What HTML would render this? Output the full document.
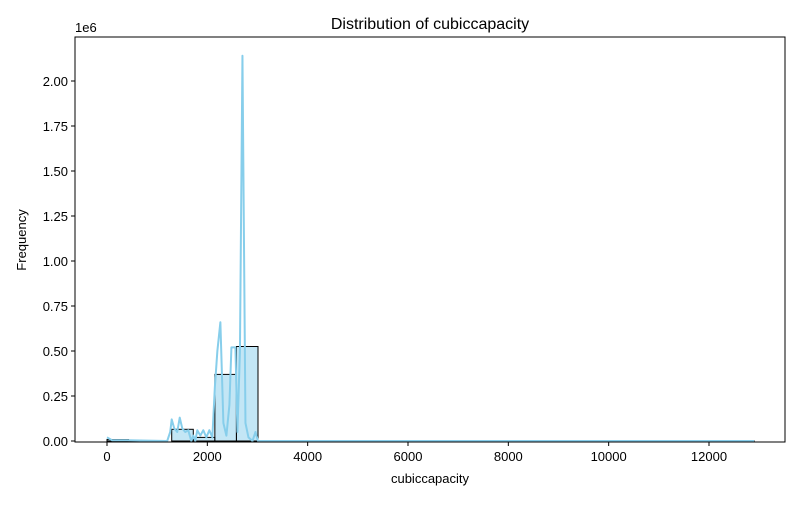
<!DOCTYPE html>
<html><head><meta charset="utf-8"><style>
body{margin:0;background:#fff;font-family:"Liberation Sans","DejaVu Sans",sans-serif}
</style></head><body>
<svg id="chart" width="800" height="500" xmlns="http://www.w3.org/2000/svg">
<rect width="800" height="500" fill="#fff"/>
<text x="430" y="29" text-anchor="middle" font-size="16">Distribution of cubiccapacity</text>
<g id="plot"></g>
<rect x="75" y="37" width="710" height="405" fill="none" stroke="#000" stroke-width="1"/>
<text x="430" y="483" text-anchor="middle" font-size="13">cubiccapacity</text>
<text x="26" y="240" text-anchor="middle" font-size="13" transform="rotate(-90 26 240)">Frequency</text>
<text x="75" y="32" font-size="13">1e6</text>
</svg>
<script>
const binEdgesStart = 0;
const binWidth = 430;
const binCounts = [8000,1500,0,65000,20000,370000,525000,0,1000,0,0,0,0,0,0,0,0,0,0,0,0,0,0,0,0,0,0,0,0,500];
const kdeX = [0,100,400,1200,1260,1290,1340,1400,1450,1500,1560,1620,1680,1720,1760,1800,1860,1920,1980,2040,2100,2150,2200,2260,2320,2380,2440,2480,2560,2600,2650,2700,2760,2820,2900,2960,3010,3100,12900];
const kdeY = [0.02,0.004,0.004,0,0.05,0.12,0.07,0.05,0.13,0.07,0.05,0.06,0,0.03,0,0.06,0.03,0.06,0.02,0.06,0.02,0.3,0.5,0.66,0.1,0.03,0.2,0.52,0.52,0.05,0.5,2.14,0.1,0.02,0,0.05,0,0,0];
const xTicks = [0,2000,4000,6000,8000,10000,12000];
const yTicks = [0,0.25,0.5,0.75,1.0,1.25,1.5,1.75,2.0];
const yTickLabels = ["0.00","0.25","0.50","0.75","1.00","1.25","1.50","1.75","2.00"];
const NS="http://www.w3.org/2000/svg";
const X=v=>107+v*(602/12000);
const Y=v=>441-v*180; // v in millions
const g=document.getElementById('plot');
function mk(t,a){const e=document.createElementNS(NS,t);for(const k in a)e.setAttribute(k,a[k]);g.appendChild(e);return e;}
binCounts.forEach((c,i)=>{
  const x0=X(binEdgesStart+i*binWidth),x1=X(binEdgesStart+(i+1)*binWidth);
  const y=Y(c/1e6);
  const r=mk('rect',{x:x0,y:y,width:x1-x0,height:441-y,fill:'rgba(135,206,235,0.5)',stroke:'#000','stroke-width':1});
  
  
});
const pts=kdeX.map((x,i)=>X(x)+','+Y(kdeY[i])).join(' ');
const pl=mk('polyline',{points:pts,fill:'none',stroke:'#87ceeb','stroke-width':2,'stroke-linejoin':'round'});


xTicks.forEach(v=>{
  const x=X(v);
  const l=mk('line',{x1:x,x2:x,y1:442,y2:446,stroke:'#000'});
  
  
  const t=mk('text',{x:x,y:461,'text-anchor':'middle','font-size':13});
  t.textContent=v;
  
  
});
yTicks.forEach((v,i)=>{
  const y=Y(v);
  const l=mk('line',{x1:71,x2:75,y1:y,y2:y,stroke:'#000'});
  
  
  const t=mk('text',{x:68,y:y+5,'text-anchor':'end','font-size':13});
  t.textContent=yTickLabels[i];
  
  
});
</script>
</body></html>
